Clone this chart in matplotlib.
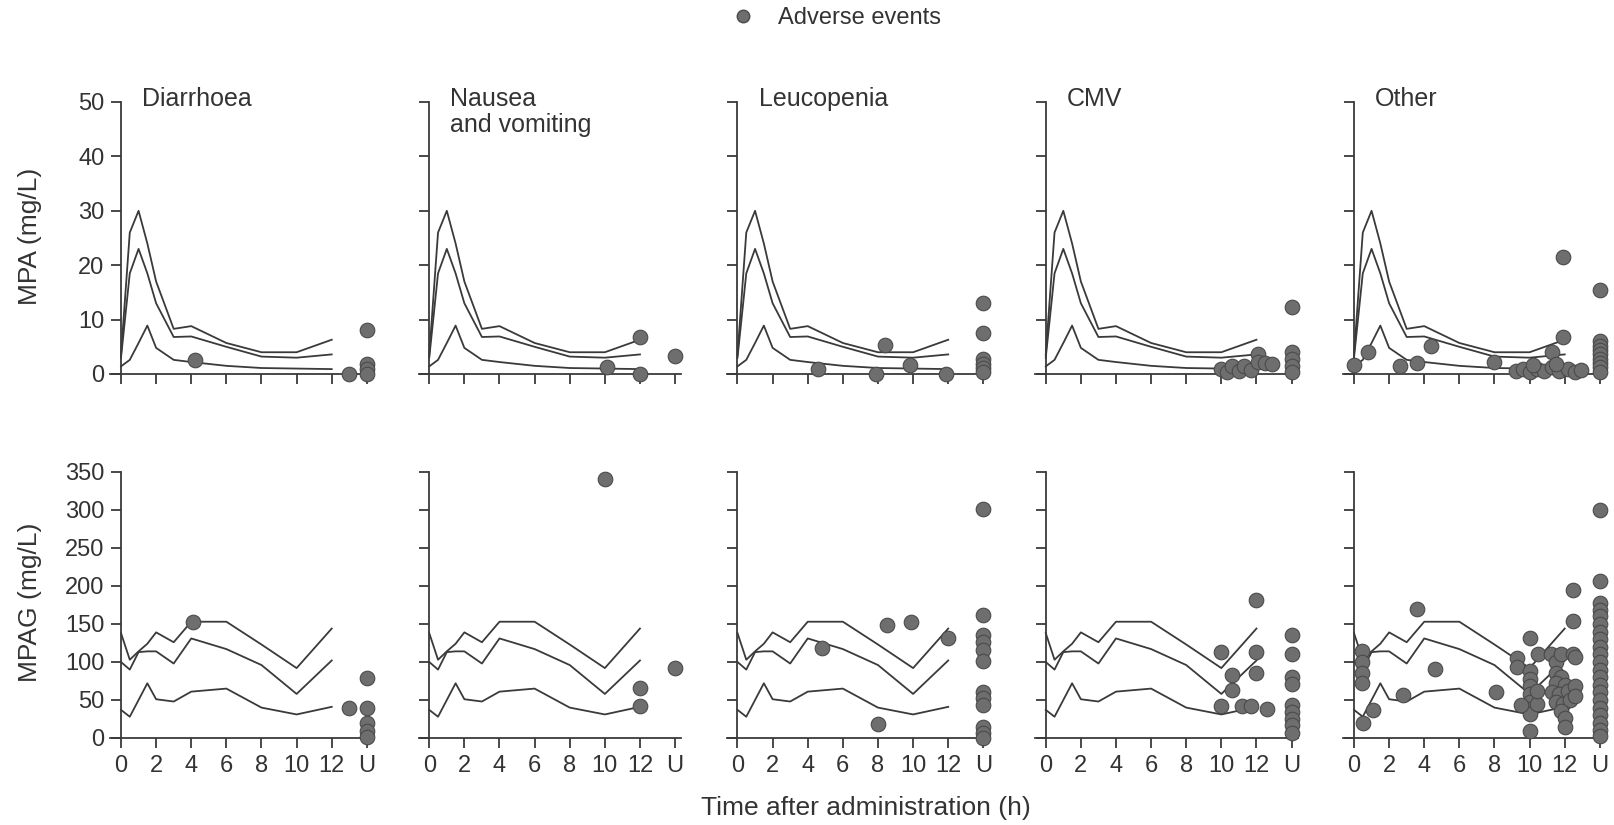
import matplotlib
matplotlib.use("Agg")
import matplotlib.pyplot as plt
from matplotlib.lines import Line2D

plt.rcParams['font.family'] = ['Liberation Sans', 'DejaVu Sans']

# ---------------- data ----------------
times = [0, 0.5, 1, 1.5, 2, 3, 4, 6, 8, 10, 12]
mpa_upper = [3.5, 26, 30, 24, 17, 8.3, 8.8, 5.7, 4.0, 4.0, 6.3]
mpa_middle = [3.0, 18.5, 23, 18.5, 13, 6.8, 6.9, 5.0, 3.2, 3.0, 3.6]
mpa_lower = [1.4, 2.6, 5.7, 8.9, 4.8, 2.6, 2.2, 1.5, 1.1, 1.0, 0.9]
mpag_upper = [138, 103, 114, 124, 139, 126, 153, 153, 123, 92, 144]
mpag_middle = [100, 90, 113, 114, 114, 98, 131, 117, 96, 58, 102]
mpag_lower = [37, 28, 50, 72, 51, 48, 61, 65, 40, 31, 41]

categories = ["Diarrhoea", "Nausea\nand vomiting", "Leucopenia", "CMV", "Other"]
xtick_values = [0, 2, 4, 6, 8, 10, 12, 14]
xtick_labels = ["0", "2", "4", "6", "8", "10", "12", "U"]
mpa_ticks = [0, 10, 20, 30, 40, 50]
mpag_ticks = [0, 50, 100, 150, 200, 250, 300, 350]

# adverse events (U plotted at 14)
diarrhoea_mpa_t = [4.2, 13.0, 14, 14, 14, 14]
diarrhoea_mpa_v = [2.6, 0.0, 8.1, 1.8, 0.9, 0.0]
diarrhoea_mpag_t = [4.1, 13.0, 14, 14, 14, 14, 14]
diarrhoea_mpag_v = [153, 40, 79, 40, 20, 9, 1]

nausea_mpa_t = [12.0, 10.1, 12.0, 14.0]
nausea_mpa_v = [6.8, 1.2, 0.0, 3.4]
nausea_mpag_t = [10.0, 12.0, 12.0, 14.0]
nausea_mpag_v = [341, 66, 42, 92]

leuco_mpa_t = [4.6, 8.4, 7.9, 9.8, 11.9, 14, 14, 14, 14, 14, 14]
leuco_mpa_v = [0.9, 5.4, 0.0, 1.7, 0.0, 13.1, 7.5, 2.7, 1.9, 1.1, 0.3]
leuco_mpag_t = [4.8, 8.5, 9.9, 8.0, 12.0,
                14, 14, 14, 14, 14, 14, 14, 14, 14, 14, 14, 14]
leuco_mpag_v = [118, 149, 152, 19, 131,
                301, 162, 135, 126, 116, 101, 61, 52, 43, 14, 6, 0]

cmv_mpa_t = [10.0, 10.3, 10.6, 11.0, 11.3, 11.7, 12.1, 12.1, 12.5, 12.9,
             14, 14, 14, 14, 14]
cmv_mpa_v = [0.9, 0.4, 1.5, 0.5, 1.4, 0.8, 3.7, 2.2, 2.0, 1.8,
             12.3, 4.0, 2.8, 1.5, 0.3]
cmv_mpag_t = [10.0, 10.6, 10.6, 10.0, 11.15, 11.7, 12.6, 12.0, 12.0, 12.0,
              14, 14, 14, 14, 14, 14, 14, 14, 14]
cmv_mpag_v = [113, 83, 63, 42, 42, 42, 38, 181, 113, 86,
              135, 111, 80, 71, 43, 34, 25, 17, 6]

other_mpa_t = [0.0, 0.8, 2.6, 3.6, 4.4, 8.0, 11.9, 11.9, 11.3,
               9.2, 9.6, 10.0, 10.4, 10.8, 11.3, 11.7, 12.2, 12.6, 12.9, 10.2, 11.5,
               14, 14, 14, 14, 14, 14, 14, 14, 14]
other_mpa_v = [1.7, 4.0, 1.4, 2.0, 5.2, 2.2, 21.5, 6.8, 4.0,
               0.5, 0.9, 0.4, 1.0, 0.5, 1.2, 0.5, 0.9, 0.4, 0.8, 1.6, 1.8,
               15.5, 6.0, 5.2, 4.4, 3.6, 2.8, 2.0, 1.2, 0.4]
other_mpag_t = [0.46, 0.46, 0.46, 0.46, 0.5, 1.1, 2.8, 3.6, 4.6, 8.1,
                9.3, 9.3, 10.0, 10.5, 10.0, 10.0, 10.0, 10.0, 10.0, 10.0, 10.0, 10.0,
                9.5, 10.4, 10.4,
                11.2, 11.5, 11.8, 12.5, 11.5, 11.8, 11.5, 12.0, 11.3, 11.7, 12.2,
                11.5, 11.9, 12.3, 11.8, 12.0, 12.0, 12.6, 12.6, 12.6, 12.5, 12.5,
                14, 14, 14, 14, 14, 14, 14, 14, 14, 14, 14, 14, 14, 14, 14, 14,
                14, 14, 14, 14, 14]
other_mpag_v = [114, 100, 86, 72, 20, 37, 57, 170, 91, 60,
                105, 94, 132, 110, 88, 78, 68, 58, 48, 38, 31, 9,
                44, 45, 62,
                110, 100, 110, 110, 86, 80, 72, 70, 60, 58, 62,
                48, 45, 50, 36, 26, 14, 68, 55, 106, 195, 154,
                300, 206, 178, 168, 160, 150, 140, 130, 120, 110, 100, 90, 80, 70, 60, 50,
                40, 30, 20, 10, 2]

mpa_events_t = [diarrhoea_mpa_t, nausea_mpa_t, leuco_mpa_t, cmv_mpa_t, other_mpa_t]
mpa_events_v = [diarrhoea_mpa_v, nausea_mpa_v, leuco_mpa_v, cmv_mpa_v, other_mpa_v]
mpag_events_t = [diarrhoea_mpag_t, nausea_mpag_t, leuco_mpag_t, cmv_mpag_t, other_mpag_t]
mpag_events_v = [diarrhoea_mpag_v, nausea_mpag_v, leuco_mpag_v, cmv_mpag_v, other_mpag_v]

# ---------------- figure ----------------
W, H = 1615, 825
fig = plt.figure(figsize=(W / 100, H / 100), dpi=100)

px_per_h = 17.56
x_lo, x_hi = -0.6, 14.35
line_col = '#3a3a3a'
dot_face = '#6e6e6e'
dot_edge = '#4a4a4a'
text_col = '#333333'

rows = [
    dict(lines=(mpa_upper, mpa_middle, mpa_lower), ticks=mpa_ticks, ylim=(0, 50),
         y0=374, ytop=102, ev_t=mpa_events_t, ev_v=mpa_events_v, labels=False),
    dict(lines=(mpag_upper, mpag_middle, mpag_lower), ticks=mpag_ticks, ylim=(0, 350),
         y0=738, ytop=472, ev_t=mpag_events_t, ev_v=mpag_events_v, labels=True),
]

for r, row in enumerate(rows):
    for c in range(5):
        axis_x = 121 + 308.25 * c
        left_px = axis_x + x_lo * px_per_h
        width_px = (x_hi - x_lo) * px_per_h
        ax = fig.add_axes([left_px / W, (H - row['y0']) / H,
                           width_px / W, (row['y0'] - row['ytop']) / H])
        ax.set_xlim(x_lo, x_hi)
        ax.set_ylim(*row['ylim'])
        for s in ('top', 'right'):
            ax.spines[s].set_visible(False)
        ax.spines['left'].set_position(('data', 0))
        for s in ('left', 'bottom'):
            ax.spines[s].set_color(line_col)
            ax.spines[s].set_linewidth(1.3)
        ax.patch.set_alpha(0)
        for series in row['lines']:
            ax.plot(times, series, color=line_col, lw=1.3, clip_on=False, zorder=2)
        ax.plot(row['ev_t'][c], row['ev_v'][c], ls='none', marker='o', ms=10.5,
                mfc=dot_face, mec=dot_edge, mew=0.8, clip_on=False, zorder=3)
        ax.set_xticks(xtick_values)
        ax.set_yticks(row['ticks'])
        ax.tick_params(axis='both', direction='out', length=7, width=1.3,
                       color=line_col, labelsize=17, labelcolor=text_col, pad=5)
        if row['labels']:
            ax.set_xticklabels(xtick_labels)
        else:
            ax.set_xticklabels([])
        if c != 0:
            ax.set_yticklabels([])
        if r == 0:
            ax.text(1.2, 52.8, categories[c], ha='left', va='top', fontsize=18,
                    color=text_col, linespacing=1.1)

fig.text(30 / W, 1 - 236 / H, "MPA (mg/L)", rotation=90, ha='center', va='center',
         fontsize=19, color=text_col)
fig.text(30 / W, 1 - 602 / H, "MPAG (mg/L)", rotation=90, ha='center', va='center',
         fontsize=19, color=text_col)
fig.text(866 / W, 1 - 808 / H, "Time after administration (h)", ha='center', va='center',
         fontsize=19, color=text_col)

handle = Line2D([], [], ls='none', marker='o', ms=9, mfc=dot_face, mec=dot_edge)
fig.legend(handles=[handle], labels=["Adverse events"], loc='center',
           bbox_to_anchor=(830 / W, 1 - 18 / H), frameon=False, fontsize=17,
           handletextpad=0.5, labelcolor=text_col)

fig.savefig("out.png", dpi=100)
